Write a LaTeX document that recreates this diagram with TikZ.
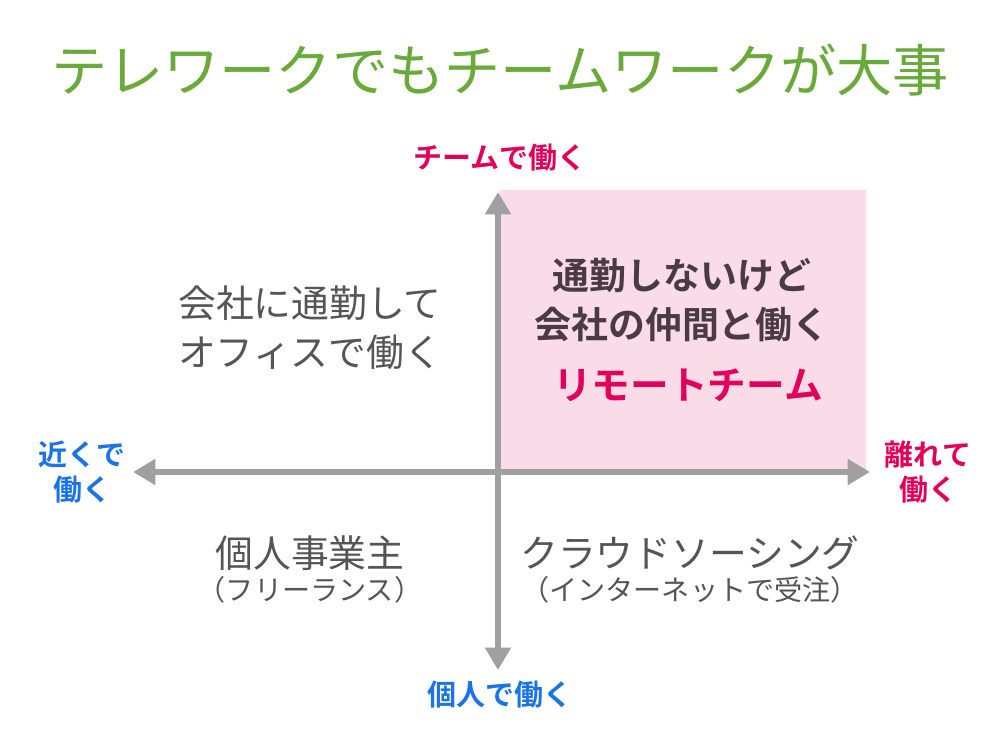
\documentclass[tikz,border=0pt]{standalone}
\usepackage{fontspec}
\setmainfont{Noto Sans CJK JP}[BoldFont={* Bold}]
\usetikzlibrary{arrows.meta,positioning}
\definecolor{titlegreen}{HTML}{6AAA3A}
\definecolor{teampink}{HTML}{E2005A}
\definecolor{nearblue}{HTML}{1A73E8}
\definecolor{quadpink}{HTML}{FADBE8}
\definecolor{axisgray}{HTML}{A0A0A0}
\definecolor{textgray}{HTML}{555555}
\definecolor{darktext}{HTML}{4A3A45}

\begin{document}
\begin{tikzpicture}[
    x=0.02cm, y=-0.02cm,
    axis/.style={{Triangle[length=4.5mm,width=5mm]}-{Triangle[length=4.5mm,width=5mm]}, line width=1.3mm, draw=axisgray},
    pole/.style={font=\fontsize{16.5}{20}\selectfont\bfseries, align=center},
    quad/.style={font=\fontsize{21.5}{28}\selectfont, text=textgray, align=center},
    sub/.style={font=\fontsize{16}{20}\selectfont, text=textgray}
]
\useasboundingbox (0,0) rectangle (1000,750);

% Title
\node[text=titlegreen, font=\fontsize{32}{38}\selectfont] (title) at (500,70) {テレワークでもチームワークが大事};

% Remote team quadrant
\fill[quadpink] (500,190) rectangle (866,470);

% Axes
\coordinate (L) at (133,472);
\coordinate (R) at (870,472);
\coordinate (T) at (498,192);
\coordinate (B) at (498,670);
\draw[axis] (L) -- (R);
\draw[axis] (B) -- (T);

% Pole labels
\node[pole, text=teampink] (team) at (500,158) {チームで働く};
\node[pole, text=teampink] (far) at (928,472) {離れて\\働く};
\node[pole, text=nearblue] (near) at (82,472) {近くで\\働く};
\node[pole, text=nearblue] (solo) at (500,695) {個人で働く};

% Quadrants
\node[quad] (office) at (310,328) {会社に通勤して\\オフィスで働く};
\node[quad, text=darktext, font=\fontsize{21}{28}\selectfont\bfseries] (remote) at (682,300) {通勤しないけど\\会社の仲間と働く};
\node[text=teampink, font=\fontsize{22}{28}\selectfont\bfseries] (rteam) at (688,385) {リモートチーム};
\node[quad] (free) at (310,553) {個人事業主};
\node[sub] (freesub) at (310,590) {（フリーランス）};
\node[quad] (crowd) at (690,553) {クラウドソーシング};
\node[sub] (crowdsub) at (690,590) {（インターネットで受注）};
\end{tikzpicture}
\end{document}
